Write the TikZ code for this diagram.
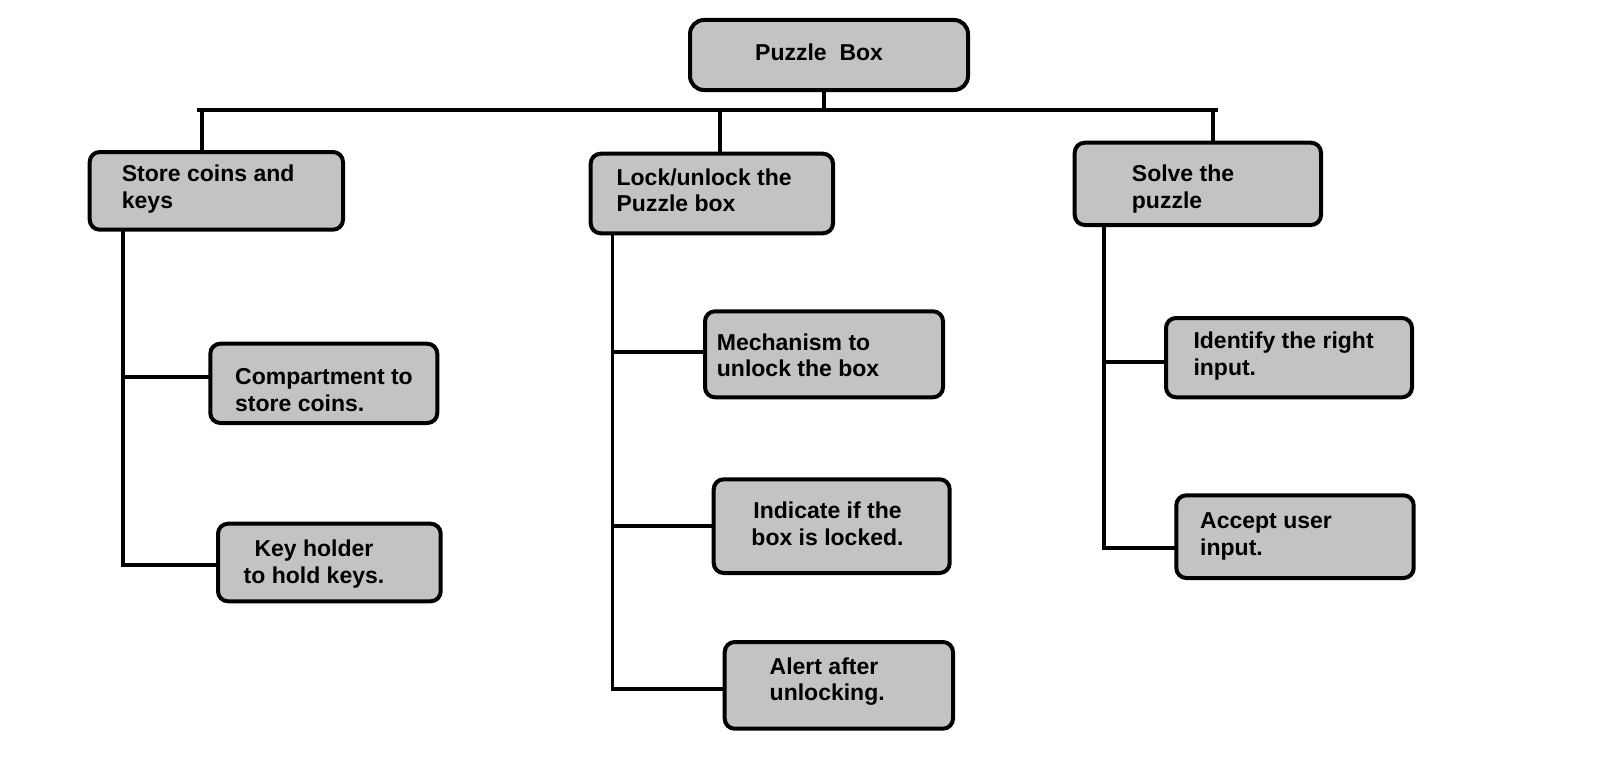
\documentclass[tikz,border=0pt]{standalone}
\usepackage{fontspec}
\setmainfont{Liberation Sans}
\definecolor{boxgray}{RGB}{195,195,195}
\tikzset{
  box/.style={draw=black, line width=4pt, fill=boxgray, rounded corners=10pt, inner sep=0pt, rectangle},
  rootbox/.style={box, rounded corners=14pt},
  txt/.style={inner sep=0pt, font=\fontsize{23}{26.7}\selectfont\bfseries, text=black},
  txtl/.style={txt, align=left, anchor=base west},
  txtc/.style={txt, align=center, anchor=base},
  conn/.style={draw=black, line width=3.8pt, line cap=rect, line join=miter}
}
\begin{document}
\begin{tikzpicture}[x=1pt, y=-1pt]
\fill[white] (0,0) rectangle (1611,760);
\useasboundingbox (0,0) rectangle (1611,760);

% boxes
\node[rootbox, minimum width=278pt, minimum height=70pt] (root) at (829,55) {};
\node[box, minimum width=253.3pt, minimum height=77.7pt] (b1) at (216.35,190.85) {};
\node[box, minimum width=242.3pt, minimum height=79.6pt] (b2) at (711.85,193.5) {};
\node[box, minimum width=246.3pt, minimum height=82.3pt] (b3) at (1197.85,183.85) {};
\node[box, minimum width=227pt, minimum height=79.3pt] (c1) at (323.8,383.35) {};
\node[box, minimum width=222.7pt, minimum height=77.6pt] (c2) at (329.35,562.5) {};
\node[box, minimum width=238pt, minimum height=86pt] (m1) at (824,354.3) {};
\node[box, minimum width=236pt, minimum height=93.7pt] (m2) at (831.7,526.15) {};
\node[box, minimum width=228.3pt, minimum height=86.7pt] (m3) at (838.85,685.35) {};
\node[box, minimum width=246pt, minimum height=79.3pt] (r1) at (1289,357.65) {};
\node[box, minimum width=237.4pt, minimum height=82.7pt] (r2) at (1295,536.65) {};

% texts (anchor on the baseline of the last line)
\node[txtl] (troot) at (755,60) {Puzzle\ \ Box};
\node[txtl] (tb1) at (121.7,208.4) {Store coins and\\keys};
\node[txtl] (tb2) at (616.4,211.7) {Lock/unlock the\\Puzzle box};
\node[txtl] (tb3) at (1131.7,208.4) {Solve the\\puzzle};
\node[txtl] (tc1) at (235,411) {Compartment to\\store coins.};
\node[txtc] (tc2) at (314,583.4) {Key holder\\to hold keys.};
\node[txtl] (tm1) at (716.7,376.7) {Mechanism to\\unlock the box};
\node[txtc] (tm2) at (827.5,545) {Indicate if the\\box is locked.};
\node[txtl] (tm3) at (769.5,700.7) {Alert after\\unlocking.};
\node[txtl] (tr1) at (1193.3,375) {Identify the right\\input.};
\node[txtl] (tr2) at (1200,555) {Accept user\\input.};

% bus
\coordinate (busL) at (199,110);
\coordinate (busR) at (1216,110);
\coordinate (s0) at (824,110);
\coordinate (d1) at (201.7,110);
\coordinate (d2) at (720,110);
\coordinate (d3) at (1213,110);
\draw[conn] (busL) -- (busR);
\draw[conn] (s0 |- root.south) -- (s0);
\draw[conn] (d1) -- (d1 |- b1.north);
\draw[conn] (d2) -- (d2 |- b2.north);
\draw[conn] (d3) -- (d3 |- b3.north);

% left column
\coordinate (vL) at (123.3,565);
\coordinate (jL1) at (123.3,377.3);
\draw[conn] (vL |- b1.south) -- (vL) -- (vL -| c2.west);
\draw[conn] (jL1) -- (jL1 -| c1.west);

% middle column
\coordinate (vM) at (612.5,689.3);
\coordinate (jM1) at (612.5,351.7);
\coordinate (jM2) at (612.5,526);
\draw[conn] (vM |- b2.south) -- (vM) -- (vM -| m3.west);
\draw[conn] (jM1) -- (jM1 -| m1.west);
\draw[conn] (jM2) -- (jM2 -| m2.west);

% right column
\coordinate (vR) at (1104,548);
\coordinate (jR1) at (1104,361.7);
\draw[conn] (vR |- b3.south) -- (vR) -- (vR -| r2.west);
\draw[conn] (jR1) -- (jR1 -| r1.west);
\end{tikzpicture}
\end{document}
